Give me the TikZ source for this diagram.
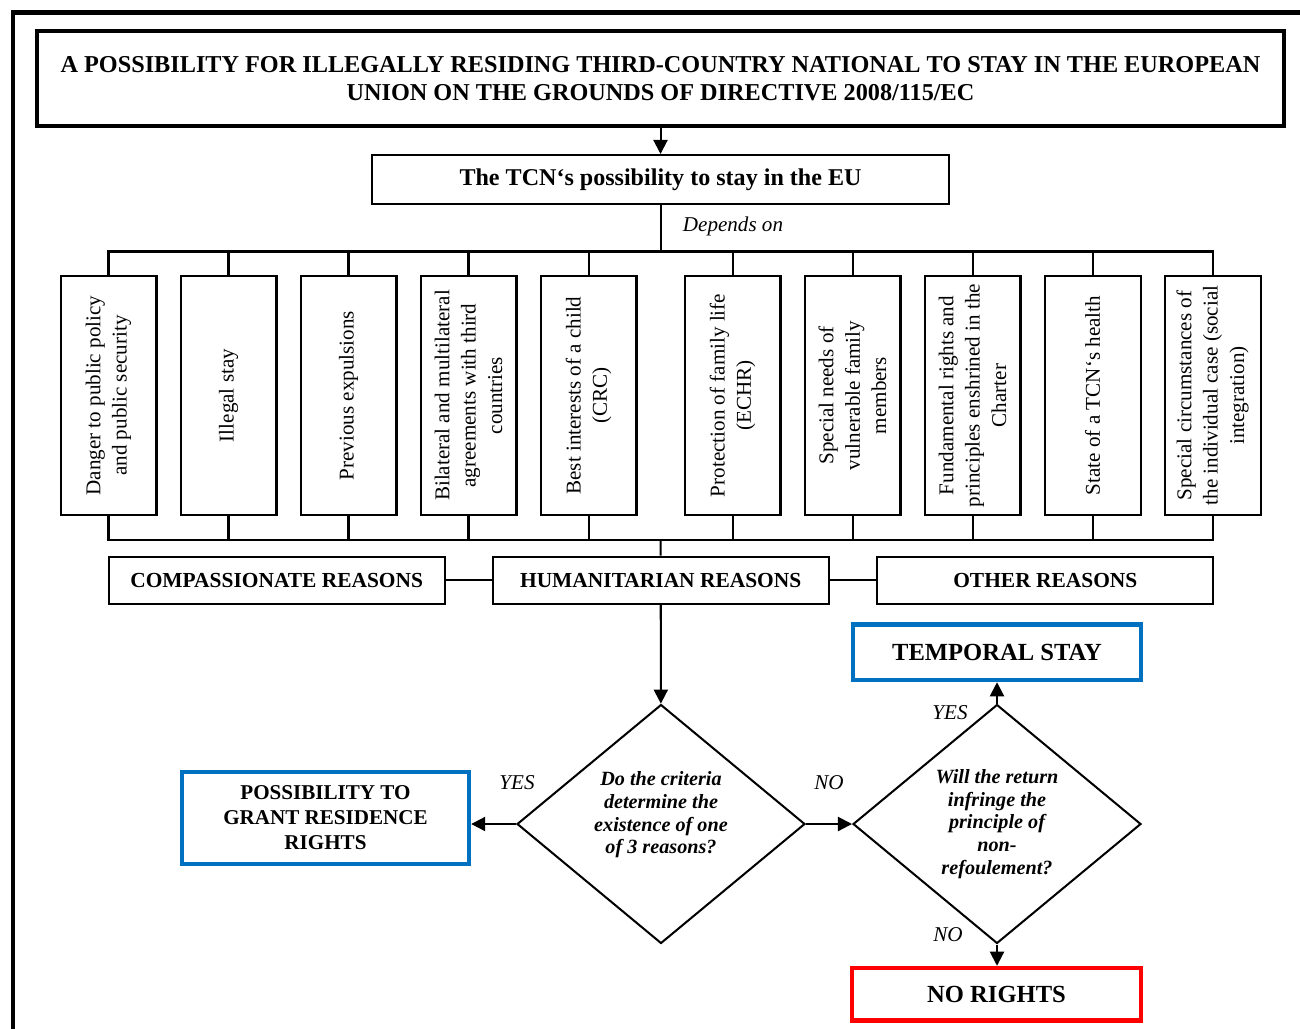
\documentclass[tikz,border=0pt]{standalone}
\usepackage{fontspec}
\setmainfont{Liberation Serif}
\usetikzlibrary{arrows.meta,shapes.geometric}
\definecolor{boxblue}{HTML}{0070C0}
\definecolor{boxred}{HTML}{FF0000}
\newcommand{\vlabel}[1]{\rotatebox{90}{\parbox{4.5cm}{\centering\fontsize{12}{15}\selectfont #1}}}

\begin{document}
\begin{tikzpicture}[x=0.02cm,y=-0.02cm,
  box/.style={draw,line width=1.15pt,inner sep=0pt,align=center},
  factor/.style={box,minimum width=1.92cm,minimum height=4.8cm},
  reason/.style={box,minimum width=6.72cm,minimum height=0.95cm,font=\fontsize{12.2}{14}\selectfont\bfseries},
  outcome/.style={box,line width=2.5pt,minimum width=5.76cm,font=\fontsize{14}{16}\selectfont\bfseries},
  query/.style={diamond,draw,line width=1.15pt,inner sep=0pt,minimum width=5.76cm,minimum height=4.78cm,align=center,font=\fontsize{11.5}{13}\selectfont\bfseries\itshape},
  lbl/.style={font=\fontsize{12}{14}\selectfont\itshape},
  arr/.style={-{Triangle[length=8pt,width=8pt]},line width=1.15pt},
  conn/.style={line width=1.15pt}
]
\useasboundingbox (0,0) rectangle (1300,1028);
\draw[line width=2.6pt] (13,1040) -- (13,12.5) -- (1310,12.5);

\node[box,line width=2.5pt,minimum width=24.94cm,minimum height=1.9cm,font=\fontsize{13.8}{16.2}\selectfont\bfseries] (title) at (660.5,78.5) {A POSSIBILITY FOR ILLEGALLY RESIDING THIRD-COUNTRY NATIONAL TO STAY IN THE EUROPEAN\\UNION ON THE GROUNDS OF DIRECTIVE 2008/115/EC};
\node[box,minimum width=11.54cm,minimum height=0.98cm,font=\fontsize{13.7}{16}\selectfont\bfseries] (tcn) at (660.5,179.5) {The TCN‘s possibility to stay in the EU};
\node[lbl] (depends) at (733,226) {Depends on};

% factors
\node[factor] (f1) at (108.5,395.5) {\vlabel{Danger to public policy\\and public security}};
\node[factor] (f2) at (228.5,395.5) {\vlabel{Illegal stay}};
\node[factor] (f3) at (348.5,395.5) {\vlabel{Previous expulsions}};
\node[factor] (f4) at (468.5,395.5) {\vlabel{Bilateral and multilateral\\agreements with third\\countries}};
\node[factor] (f5) at (588.5,395.5) {\vlabel{Best interests of a child\\(CRC)}};
\node[factor] (f6) at (732.5,395.5) {\vlabel{Protection of family life\\(ECHR)}};
\node[factor] (f7) at (852.5,395.5) {\vlabel{Special needs of\\vulnerable family\\members}};
\node[factor] (f8) at (972.5,395.5) {\vlabel{Fundamental rights and\\principles enshrined in the\\Charter}};
\node[factor] (f9) at (1092.5,395.5) {\vlabel{State of a TCN‘s health}};
\node[factor] (f10) at (1212.5,395.5) {\vlabel{Special circumstances of\\the individual case (social\\integration)}};
\coordinate (tbus) at (660.5,251.5);
\coordinate (bbus) at (660.5,539.5);

% reasons
\node[reason] (comp) at (276.7,580.4) {COMPASSIONATE REASONS};
\node[reason] (hum) at (660.7,580.4) {HUMANITARIAN REASONS};
\node[reason] (oth) at (1045.3,580.4) {OTHER REASONS};

% decisions
\node[query] (q1) at (661,824) {Do the criteria\\determine the\\existence of one\\of 3 reasons?\\\mbox{}};
\node[query] (q2) at (997,824) {Will the return\\infringe the\\principle of\\non-\\refoulement?};
\node[outcome,draw=boxblue,minimum width=5.74cm,minimum height=1.84cm,font=\fontsize{12}{14.2}\selectfont\bfseries] (grant) at (325.5,818) {POSSIBILITY TO\\GRANT RESIDENCE\\RIGHTS};
\node[outcome,draw=boxblue,minimum height=1.11cm] (temp) at (997,652.3) {TEMPORAL STAY};
\node[outcome,draw=boxred,minimum width=5.78cm,minimum height=1.05cm] (norights) at (996.5,994.2) {NO RIGHTS};
\node[lbl] (yes1) at (517,783) {YES};
\node[lbl] (no1) at (829,783) {NO};
\node[lbl] (yes2) at (950,713) {YES};
\node[lbl] (no2) at (948,935) {NO};

\draw[arr] (title) -- (tcn);
\draw[conn] (tcn) -- (tbus);
\draw[conn] (f1.north) |- (tbus) -| (f10.north);
\draw[conn] (f1.south) |- (bbus) -| (f10.south);
\foreach \i in {2,...,9} {
  \draw[conn] (f\i.north) -- (f\i.north |- tbus);
  \draw[conn] (f\i.south) -- (f\i.south |- bbus);
}
\draw[conn] (bbus) -- (hum);
\draw[conn] (comp) -- (hum); \draw[conn] (hum) -- (oth);
\draw[arr] (hum) -- (q1);
\draw[arr] (q1.west) -- (q1.west -| grant.east);
\draw[arr] (q1) -- (q2);
\draw[arr] (q2) -- (temp);
\draw[arr] (q2.south) -- (q2.south |- norights.north);
\end{tikzpicture}
\end{document}
